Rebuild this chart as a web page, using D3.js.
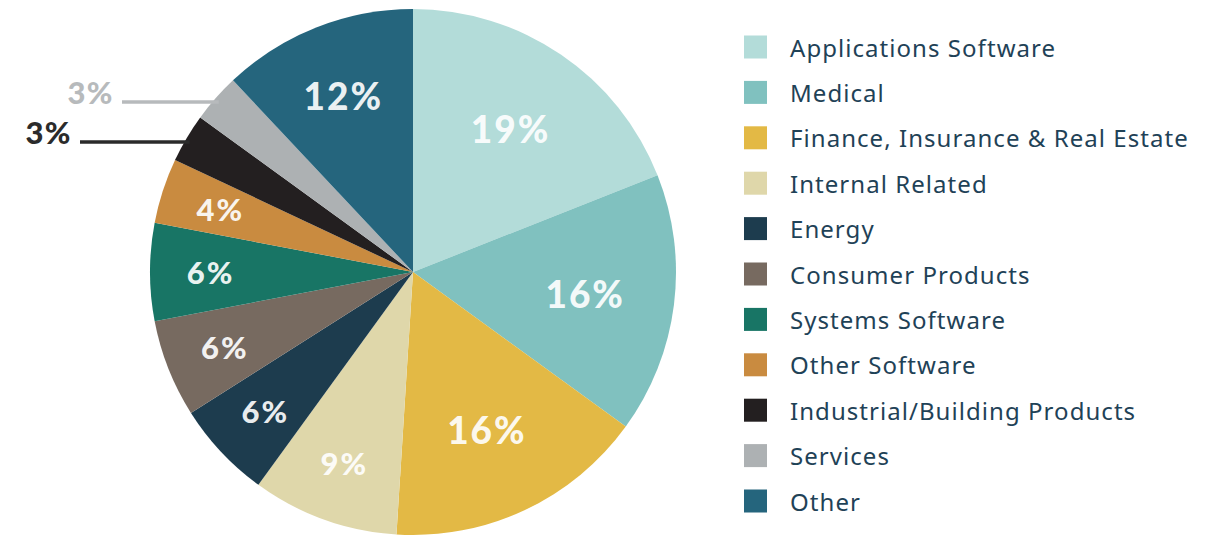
<!DOCTYPE html>
<html><head><meta charset="utf-8">
<script src="https://cdn.jsdelivr.net/npm/d3@7"></script>
<style>html,body{margin:0;padding:0;background:#fff;}svg{display:block;}</style>
</head><body><svg id="c" width="1218" height="536"></svg>
<script>
const categories = ["Applications Software","Medical","Finance, Insurance & Real Estate","Internal Related","Energy","Consumer Products","Systems Software","Other Software","Industrial/Building Products","Services","Other"];
const values = [19,16,16,9,6,6,6,4,3,3,12];
const colors = ["#b3dcd9","#80c1bf","#e3b945","#dfd7aa","#1d3c4e","#776a60","#187565","#c98b40","#231f20","#adb1b3","#25657d"];
const outsideLabelColors = {"Industrial/Building Products":"#2b2b2b","Services":"#b7babc"};

const svg = d3.select("#c");
const cx = 413, cy = 272, R = 263;
const g = svg.append("g").attr("transform", `translate(${cx},${cy})`);
const pie = d3.pie().sort(null).value(d => d.v);
const data = categories.map((c,i)=>({c, v: values[i], col: colors[i]}));
const arcs = pie(data);
const arc = d3.arc().innerRadius(0).outerRadius(R);

g.selectAll("path.s").data(arcs).join("path")
  .attr("class","s").attr("d", arc).attr("fill", d => d.data.col);

const fontFam = "Lato, 'Open Sans', sans-serif";
arcs.forEach(d => {
  const mid = (d.startAngle + d.endAngle)/2;
  const v = d.data.v;
  if (outsideLabelColors[d.data.c]) {
    const col = outsideLabelColors[d.data.c];
    const ex = R*Math.sin(mid) + 3, ey = -R*Math.cos(mid) + 4;
    const isBlack = d.data.c === "Industrial/Building Products";
    const lineEnd = isBlack ? 80 - cx : 122 - cx;
    g.append("line").attr("x1", ex).attr("y1", ey).attr("x2", lineEnd).attr("y2", ey)
      .attr("stroke", col).attr("stroke-width", 3.5);
    g.append("text").attr("x", lineEnd - 8).attr("y", ey + 2)
      .attr("text-anchor","end").attr("font-family", fontFam).attr("font-weight", 900)
      .attr("font-size", 31).attr("letter-spacing", 1.5).attr("fill", col).text(v + "%");
    return;
  }
  const rf = v >= 16 ? 0.66 : (v >= 12 ? 0.72 : 0.77);
  const size = v >= 12 ? 37 : 31;
  g.append("text")
    .attr("x", rf*R*Math.sin(mid)).attr("y", -rf*R*Math.cos(mid))
    .attr("text-anchor","middle").attr("dominant-baseline","central")
    .attr("font-family", fontFam).attr("font-weight", 900).attr("font-size", size)
    .attr("letter-spacing", 2)
    .attr("fill", "rgba(255,255,255,0.92)").text(v + "%");
});

const lg = svg.append("g").attr("transform","translate(744,0)");
const y = d3.scalePoint().domain(categories).range([47, 501]);
const rows = lg.selectAll("g").data(data).join("g").attr("transform", d => `translate(0,${y(d.c)})`);
rows.append("rect").attr("x",0).attr("y",-11.5).attr("width",23).attr("height",23).attr("fill", d=>d.col);
rows.append("text").attr("x",46).attr("y",0).attr("dominant-baseline","central")
  .attr("font-family","'Noto Sans', sans-serif").attr("font-size",24).attr("letter-spacing",1.05).attr("fill","#1f4257")
  .text(d=>d.c);
</script></body></html>
